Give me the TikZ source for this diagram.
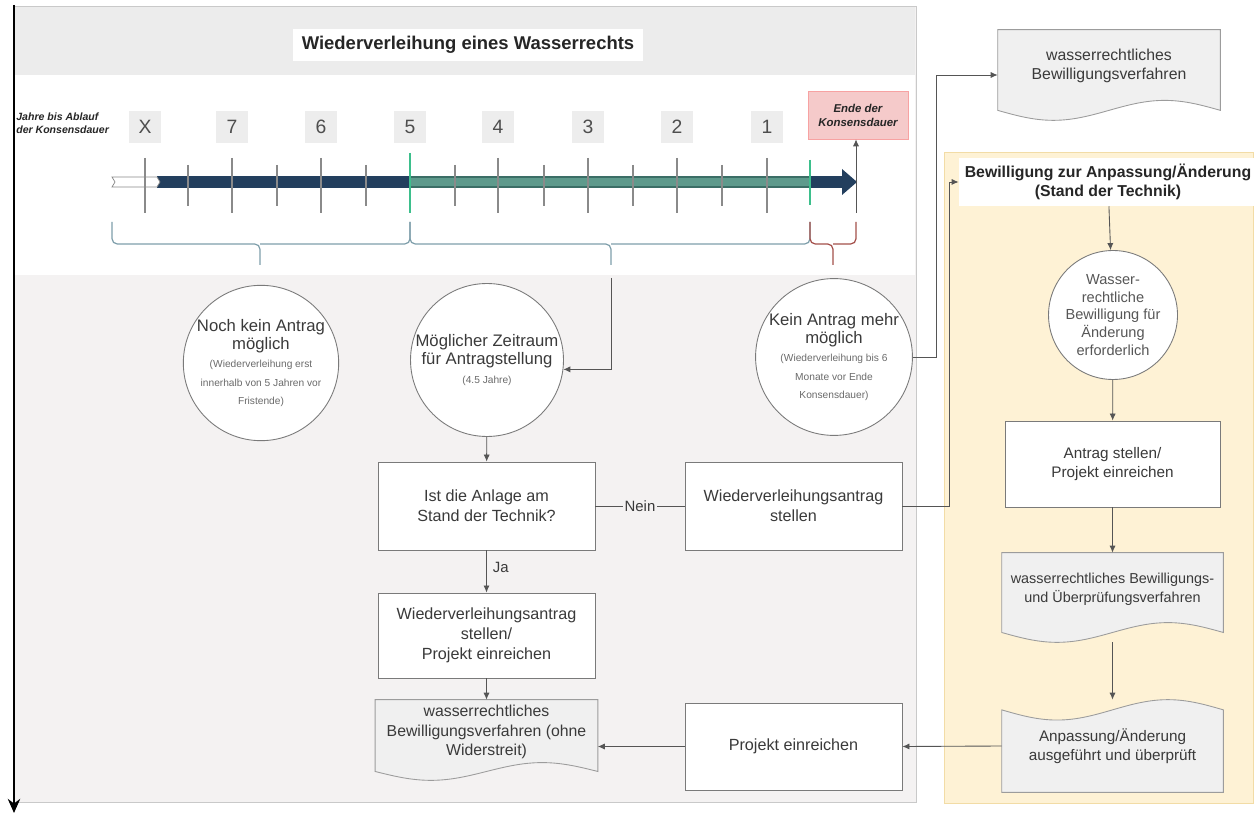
\documentclass[tikz,border=0pt]{standalone}
\usepackage{fontspec}
\setmainfont{Liberation Sans}
\usetikzlibrary{arrows.meta,calc,positioning}
\pgfdeclarelayer{back}
\pgfdeclarelayer{docs}
\pgfsetlayers{back,docs,main}
\definecolor{panelgray}{HTML}{F4F2F2}
\definecolor{bandgray}{HTML}{ECECEC}
\definecolor{panelline}{HTML}{C9C9C9}
\definecolor{boxline}{HTML}{7A7A7A}
\definecolor{lineg}{HTML}{555555}
\definecolor{txt}{HTML}{3A3A3A}
\definecolor{numbg}{HTML}{EDEDED}
\definecolor{tickc}{HTML}{8A8A8A}
\definecolor{navy}{HTML}{233F5E}
\definecolor{tealbar}{HTML}{5E9A8C}
\definecolor{tealdark}{HTML}{3B6E66}
\definecolor{greentick}{HTML}{3DBF8C}
\definecolor{bracec}{HTML}{7F9FAB}
\definecolor{bracered}{HTML}{A4504B}
\definecolor{endepink}{HTML}{F5CACA}
\definecolor{yel}{HTML}{FEF2D5}
\definecolor{yelline}{HTML}{F2DCA6}
\definecolor{docfill}{HTML}{F0F0F0}
\definecolor{docline}{HTML}{9C9C9C}
\newcommand{\sm}{\fontsize{5.8}{10.5}\selectfont\color{txt!75}}
\newcommand{\docwave}[1]{%
  \begin{pgfonlayer}{docs}
  \path[docshape] let \p1=(#1.south west), \p2=(#1.north east),
    \n1={0.11*(\y2-\y1)}, \n2={\x2-\x1} in
    (\x1,\y2) -- (\x2,\y2) -- (\x2,\y1+\n1)
    sin (\x2-0.25*\n2,\y1+2*\n1) cos (\x2-0.5*\n2,\y1+\n1)
    sin (\x1+0.25*\n2,\y1) cos (\x1,\y1+\n1) -- cycle;
  \end{pgfonlayer}}
\newcommand{\docwavetop}[1]{%
  \begin{pgfonlayer}{docs}
  \path[docshape] let \p1=(#1.south west), \p2=(#1.north east),
    \n1={0.11*(\y2-\y1)}, \n2={\x2-\x1} in
    (\x1,\y1) -- (\x2,\y1) -- (\x2,\y2-\n1)
    sin (\x2-0.25*\n2,\y2) cos (\x2-0.5*\n2,\y2-\n1)
    sin (\x1+0.25*\n2,\y2-2*\n1) cos (\x1,\y2-\n1) -- cycle;
  \end{pgfonlayer}}
\tikzset{
  box/.style={draw=boxline, fill=white, line width=0.5pt, minimum width=4.34cm,
    minimum height=1.76cm, align=center, text=txt, font=\fontsize{9.2}{11.3}\selectfont},
  circ/.style={circle, draw=boxline, fill=white, line width=0.5pt, inner sep=0pt,
    align=center, text=txt, font=\fontsize{9.5}{10.5}\selectfont},
  doc/.style={inner sep=0pt, minimum width=4.44cm, align=center, text=txt,
    font=\fontsize{9}{11}\selectfont},
  docshape/.style={draw=docline, fill=docfill, line width=0.5pt},
  conn/.style={draw=lineg, line width=0.5pt, -{Latex[length=4pt,width=3.5pt]}},
  num/.style={fill=numbg, minimum size=0.64cm, inner sep=0pt, text=txt!90,
    font=\fontsize{11}{11}\selectfont},
  tick/.style={draw=tickc, line width=0.6pt},
  brace/.style={line width=0.7pt, rounded corners=3pt},
}
\begin{document}
\begin{tikzpicture}[x=0.02cm,y=-0.02cm]
  \useasboundingbox (0,0) rectangle (1256,813);
  \begin{pgfonlayer}{back}
    \filldraw[fill=panelgray,draw=panelline] (14,6) rectangle (916,802);
    \fill[bandgray] (15,7) rectangle (915,75);
    \fill[white] (15,75) rectangle (915,275);
    \filldraw[fill=yel,draw=yelline] (944,152) rectangle (1253,803);
  \end{pgfonlayer}
  \draw[line width=1.4pt,-{Stealth[length=8pt,width=7pt]}] (14,5) -- (14,813);

  \node[fill=white, minimum width=7cm, minimum height=0.64cm, text=black!85,
    font=\fontsize{10.5}{12}\selectfont\bfseries] (title) at (468,45)
    {Wiederverleihung eines Wasserrechts};
  \node[anchor=west, align=left, inner sep=0pt, text=black!85,
    font=\fontsize{6}{7.5}\selectfont\bfseries\itshape] (jahre) at (16,123)
    {Jahre bis Ablauf\\der Konsensdauer};
  \foreach \n/\x in {X/145,7/232,6/321,5/410,4/498,3/588,2/677,1/767}
    \node[num] (n\n) at (\x,127) {\n};
  \node[fill=endepink, draw=endepink!80!red, line width=0.4pt, minimum width=2cm,
    minimum height=0.96cm, align=center, text=black!85,
    font=\fontsize{6.5}{8}\selectfont\bfseries\itshape] (ende) at (858,115)
    {Ende der\\Konsensdauer};

  \fill[navy] (157,176) rectangle (844,188);
  \fill[navy] (842,169) -- (857,182) -- (842,195) -- cycle;
  \filldraw[fill=white, draw=tickc, line width=0.4pt]
    (112,177) -- (157,177) -- (160,182) -- (157,187) -- (112,187) -- (115,182) -- cycle;
  \filldraw[fill=tealbar, draw=tealdark, line width=0.6pt] (410,177) rectangle (810,187);
  \foreach \x in {145,232,321,498,588,677,767}
    \draw[tick] (\x,158) -- (\x,213);
  \foreach \x in {188,277,366,455,544,633,722}
    \draw[tick] (\x,165) -- (\x,206);
  \draw[greentick, line width=0.9pt] (410,153) -- (410,213);
  \draw[greentick, line width=0.9pt] (810,160) -- (810,205);
  \draw[brace, bracec] (112,222) |- (260,244) -- (260,265) (410,222) |- (260,244);
  \draw[brace, bracec] (410,222) |- (611,244) -- (611,265) (810,222) |- (611,244);
  \draw[brace, bracered] (810,222) |- (833,244) -- (833,265) (856,222) |- (833,244);
  \coordinate (tend) at (856,213);
  \coordinate (zr) at (611,278);

  \node[circ, minimum size=3.04cm] (c1) at (261,363)
    {Noch kein Antrag\\möglich\\\sm(Wiederverleihung erst\\\sm innerhalb von 5 Jahren vor\\\sm Fristende)};
  \node[circ, minimum size=3.06cm] (c2) at (487,360)
    {Möglicher Zeitraum\\für Antragstellung\\\sm(4.5 Jahre)};
  \node[circ, minimum size=2.94cm] (c3) at (834,357)
    {Kein Antrag mehr\\möglich\\\sm(Wiederverleihung bis 6\\\sm Monate vor Ende\\\sm Konsensdauer)};

  \node[box] (frage) at (486.5,506) {Ist die Anlage am\\Stand der Technik?};
  \node[box] (antragA) at (793.5,506) {Wiederverleihungsantrag\\stellen};
  \node[box, minimum height=1.7cm] (antragB) at (486.5,635.5)
    {Wiederverleihungsantrag\\stellen/\\Projekt einreichen};
  \node[doc, minimum height=1.6cm, text depth=11pt] (verfA) at (486.5,740)
    {wasserrechtliches\\Bewilligungsverfahren (ohne\\Widerstreit)};
  \node[box, minimum height=1.74cm] (projekt) at (793.5,746.5) {Projekt einreichen};

  \node[doc, minimum height=1.8cm, text depth=12.5pt] (verfB) at (1109,75)
    {wasserrechtliches\\Bewilligungsverfahren};
  \node[fill=white, minimum width=5.8cm, minimum height=0.94cm, align=center,
    text=black!85, font=\fontsize{9}{11}\selectfont\bfseries] (bwtitle) at (1108,182)
    {Bewilligung zur Anpassung/Änderung\\(Stand der Technik)};
  \node[circ, minimum size=2.58cm, text=txt!85,
    font=\fontsize{8.3}{10.2}\selectfont] (c4) at (1113,315)
    {Wasser-\\rechtliche\\Bewilligung für\\Änderung\\erforderlich};
  \node[box, minimum width=4.3cm, minimum height=1.72cm,
    font=\fontsize{8.7}{11}\selectfont] (antragC) at (1112.5,464)
    {Antrag stellen/\\Projekt einreichen};
  \node[doc, minimum width=4.42cm, minimum height=1.78cm, text depth=11pt,
    font=\fontsize{8.2}{10.5}\selectfont] (verfC) at (1112.5,597.5)
    {wasserrechtliches Bewilligungs-\\und Überprüfungsverfahren};
  \node[doc, minimum width=4.42cm, minimum height=1.84cm,
    font=\fontsize{8.7}{11}\selectfont] (umsetzung) at (1112.5,746)
    {Anpassung/Änderung\\ausgeführt und überprüft};
  \docwave{verfA}
  \docwave{verfB}
  \docwave{verfC}
  \docwavetop{umsetzung}

  \begin{scope}[conn]
    \draw (tend) -- (tend |- ende.south);
    \draw (zr) |- (c2.353);
    \draw (c2) -- (frage);
    \draw (frage) -- node[right, pos=0.4, text=txt, font=\fontsize{8.5}{10}\selectfont] {Ja} (antragB);
    \draw (antragB) -- (verfA);
    \draw (projekt.west) -- (projekt.west -| verfA.east);
    \draw (umsetzung.west) -- (projekt.east);
    \draw (c3.east) -- ++(24,0) |- (verfB.west);
    \draw (antragA.east) -- ++(47,0) |- (bwtitle.west);
    \draw (bwtitle) -- (c4);
    \draw (c4) -- (antragC);
    \draw (antragC) -- (verfC);
    \draw (verfC.south) -- (umsetzung.north);
  \end{scope}
  \draw[lineg, line width=0.5pt] (frage.east) -- node[fill=panelgray, inner sep=1pt,
    text=txt, font=\fontsize{8.5}{10}\selectfont] {Nein} (antragA.west);
\end{tikzpicture}
\end{document}
